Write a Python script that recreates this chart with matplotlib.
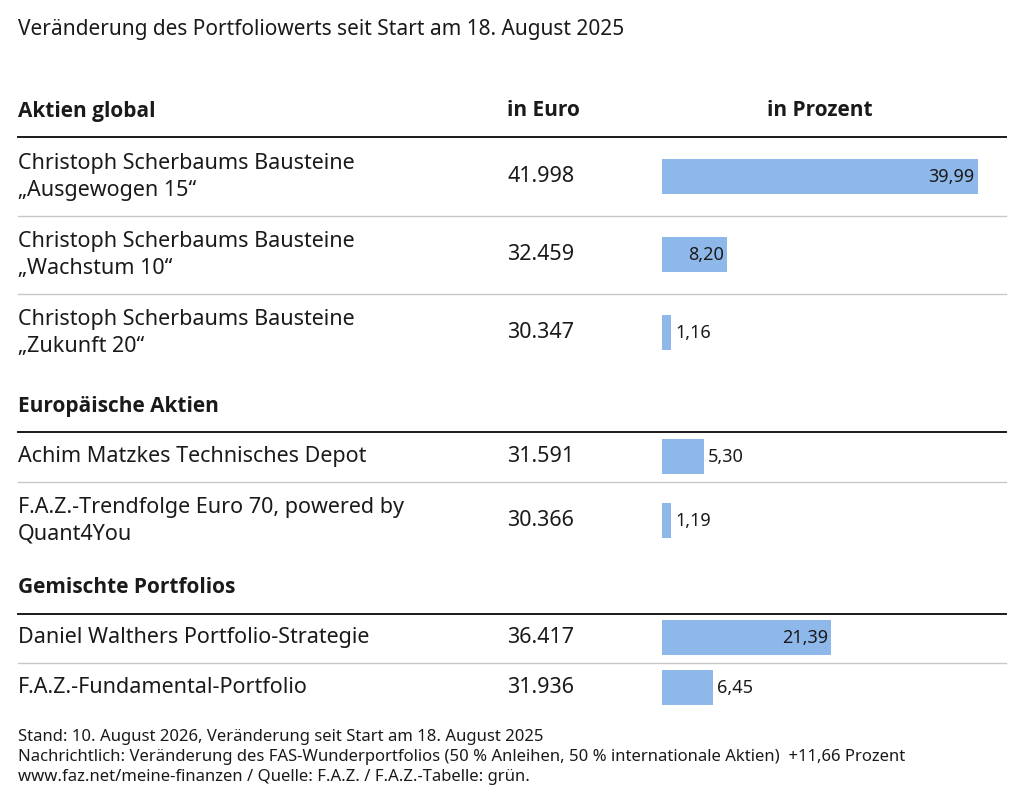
import matplotlib
matplotlib.use("Agg")
import matplotlib.pyplot as plt

# ─── Data ────────────────────────────────────────────────────────────────────
title = "Veränderung des Portfoliowerts seit Start am 18. August 2025"
groups = ["Aktien global", "Europäische Aktien", "Gemischte Portfolios"]
names = [
    "Christoph Scherbaums Bausteine\n„Ausgewogen 15“",
    "Christoph Scherbaums Bausteine\n„Wachstum 10“",
    "Christoph Scherbaums Bausteine\n„Zukunft 20“",
    "Achim Matzkes Technisches Depot",
    "F.A.Z.-Trendfolge Euro 70, powered by\nQuant4You",
    "Daniel Walthers Portfolio-Strategie",
    "F.A.Z.-Fundamental-Portfolio",
]
euro = ["41.998", "32.459", "30.347", "31.591", "30.366", "36.417", "31.936"]
pct = [39.99, 8.20, 1.16, 5.30, 1.19, 21.39, 6.45]
footer = ("Stand: 10. August 2026, Veränderung seit Start am 18. August 2025\n"
          "Nachrichtlich: Veränderung des FAS-Wunderportfolios (50 % Anleihen, 50 % internationale Aktien)  +11,66 Prozent\n"
          "www.faz.net/meine-finanzen / Quelle: F.A.Z. / F.A.Z.-Tabelle: grün.")

# ─── Layout (pixels) ─────────────────────────────────────────────────────────
W, H = 1024, 812
row_y = [177, 255, 333, 457, 521, 638, 688]
group_y = [111, 407, 588]
thick_y = [138, 433, 615]
thin_y = [217, 295, 483, 664]
BAR_X0, BAR_X1 = 662, 978
BAR_COLOR = "#8fb8ea"
TXT = "#1a1a1a"
BOLD = ["Open Sans", "DejaVu Sans"]

plt.rcParams["font.family"] = ["Noto Sans", "DejaVu Sans"]
fig = plt.figure(figsize=(W / 100, H / 100), dpi=100)
ax = fig.add_axes([0, 0, 1, 1])
ax.set_xlim(0, W)
ax.set_ylim(H, 0)
ax.axis("off")

ax.text(18, 30, title, fontsize=15, color=TXT, va="center")
for g, y in zip(groups, group_y):
    ax.text(18, y, g, fontsize=15, fontweight="bold", family=BOLD, color=TXT, va="center")
ax.text(507, group_y[0], "in Euro", fontsize=15, fontweight="bold", family=BOLD,
        color=TXT, va="center")
ax.text(820, group_y[0], "in Prozent", fontsize=15, fontweight="bold", family=BOLD,
        color=TXT, va="center", ha="center")

for y in thick_y:
    ax.plot([18, 1006], [y, y], color=TXT, lw=1.4)
for y in thin_y:
    ax.plot([18, 1006], [y, y], color="#c8c8c8", lw=1)

for n, e, y in zip(names, euro, row_y):
    ax.text(18, y, n, fontsize=15.5, color=TXT, va="center", linespacing=1.35)
    ax.text(507, y, e, fontsize=15.5, color=TXT, va="center")

ax.text(18, 757, footer, fontsize=12, color=TXT, va="center", linespacing=1.35)

# bars on their own scale
bx = fig.add_axes([BAR_X0 / W, 0, (BAR_X1 - BAR_X0) / W, 1])
bx.set_xlim(0, max(pct))
bx.set_ylim(H, 0)
bx.axis("off")
bx.barh(row_y, pct, height=35, color=BAR_COLOR)
for v, y in zip(pct, row_y):
    lab = f"{v:.2f}".replace(".", ",")
    if v > 8:
        bx.text(v - 0.4, y, lab, fontsize=13, color=TXT, va="center", ha="right")
    else:
        bx.text(v + 0.5, y, lab, fontsize=13, color=TXT, va="center", ha="left")

fig.savefig("out.png", dpi=100, facecolor="white")
